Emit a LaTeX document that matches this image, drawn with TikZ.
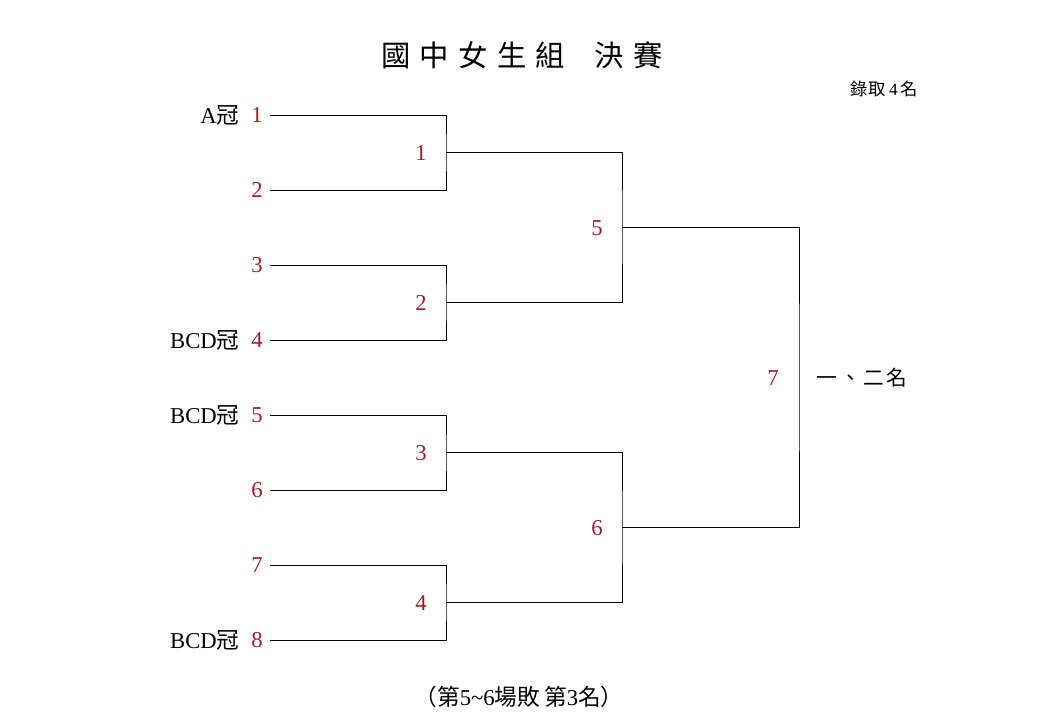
\documentclass[tikz,border=0pt]{standalone}
\usepackage{fontspec}
\setmainfont{Liberation Serif}
\newfontfamily\cjk{Noto Sans CJK TC}
\usetikzlibrary{positioning}
\definecolor{seedred}{RGB}{165,28,35}

\begin{document}
\begin{tikzpicture}[x=0.75pt, y=-0.75pt, font=\fontsize{17}{20}\selectfont]
  % Styles for the bracket
  \tikzset{seed/.style={text=seedred, inner sep=1pt}}
  \tikzset{team/.style={inner sep=1pt}}
  \tikzset{game/.style={text=seedred, inner sep=1pt}}
  \tikzset{line/.style={draw=black, line width=0.75pt}}
  \useasboundingbox (0,0) rectangle (1040,725);

  % Title
  \node (title) at (522,55) {\cjk\fontsize{22}{26}\selectfont 國\hspace{7pt}中\hspace{7pt}女\hspace{7pt}生\hspace{7pt}組\hspace{22pt}決\hspace{7pt}賽};
  \node (quota) at (884,89) {\fontsize{13}{15}\selectfont{\cjk 錄\hspace{1pt}取}\hspace{2pt}4\hspace{2pt}{\cjk 名}};

  % Seeds
  \node[seed] (s1) at (257,115) {1};
  \node[seed] (s2) at (257,190) {2};
  \node[seed] (s3) at (257,265) {3};
  \node[seed] (s4) at (257,340) {4};
  \node[seed] (s5) at (257,415) {5};
  \node[seed] (s6) at (257,490) {6};
  \node[seed] (s7) at (257,565) {7};
  \node[seed] (s8) at (257,640) {8};

  % Team labels
  \node[team, left=6.5pt of s1] (t1) {A{\cjk 冠}};
  \node[team, left=6.5pt of s4] (t4) {BCD{\cjk 冠}};
  \node[team, left=6.5pt of s5] (t5) {BCD{\cjk 冠}};
  \node[team, left=6.5pt of s8] (t8) {BCD{\cjk 冠}};

  % Line ends
  \coordinate (a1) at (270,115);
  \coordinate (a2) at (270,190);
  \coordinate (a3) at (270,265);
  \coordinate (a4) at (270,340);
  \coordinate (a5) at (270,415);
  \coordinate (a6) at (270,490);
  \coordinate (a7) at (270,565);
  \coordinate (a8) at (270,640);

  % Games
  \coordinate (m1) at (446,152.5);
  \coordinate (m2) at (446,302.5);
  \coordinate (m3) at (446,452.5);
  \coordinate (m4) at (446,602.5);
  \coordinate (m5) at (622,227.5);
  \coordinate (m6) at (622,527.5);
  \coordinate (m7) at (799,377.5);

  \node[game] (g1) at (421,153) {1};
  \node[game] (g2) at (421,303) {2};
  \node[game] (g3) at (421,453) {3};
  \node[game] (g4) at (421,603) {4};
  \node[game] (g5) at (597,228) {5};
  \node[game] (g6) at (597,528) {6};
  \node[game] (g7) at (773,378) {7};

  % Round 1
  \draw[line] (a1) -| (m1) |- (a2);
  \draw[line] (a3) -| (m2) |- (a4);
  \draw[line] (a5) -| (m3) |- (a6);
  \draw[line] (a7) -| (m4) |- (a8);
  % Semifinals and final
  \draw[line] (m1) -| (m5) |- (m2);
  \draw[line] (m3) -| (m6) |- (m4);
  \draw[line] (m5) -| (m7) |- (m6);

  \node[anchor=west] (rank) at (812,378) {\cjk\fontsize{15.5}{18}\selectfont 一\hspace{2pt}、\hspace{2pt}二\hspace{2pt}名};
  \node (third) at (519,697) {{\cjk （第}5\textasciitilde 6{\cjk 場敗\hspace{3pt}第}3{\cjk 名）}};
\end{tikzpicture}
\end{document}
